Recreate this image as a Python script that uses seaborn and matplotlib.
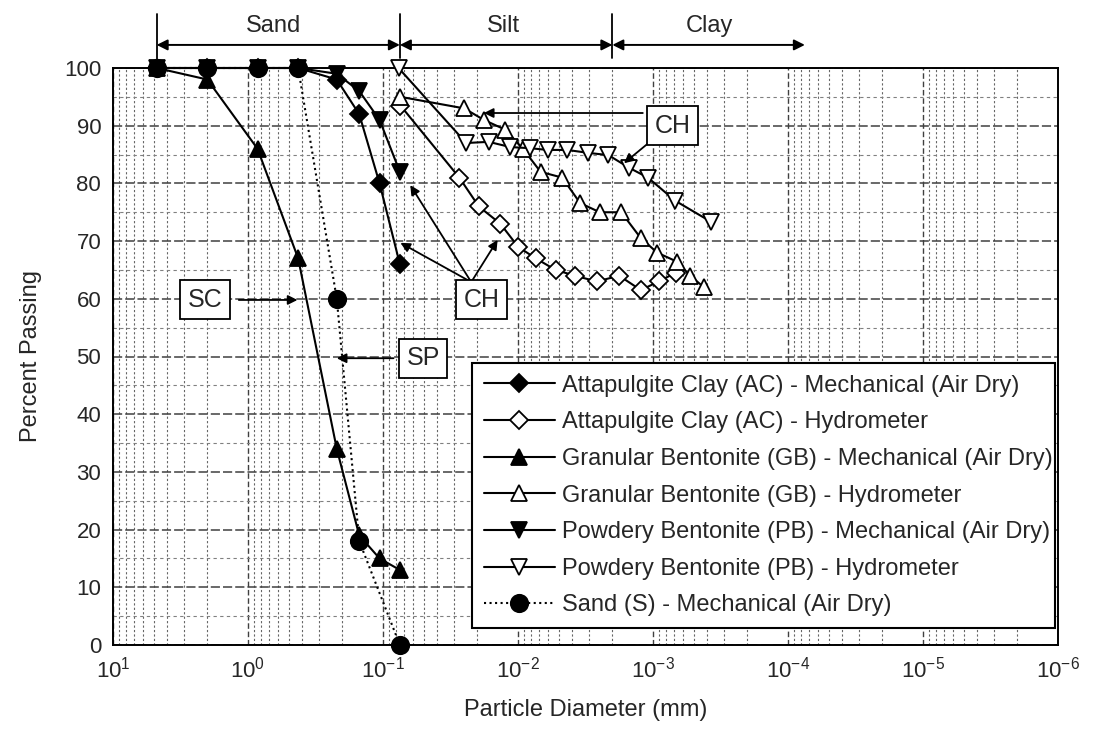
import matplotlib
matplotlib.use('Agg')
import matplotlib.pyplot as plt
import seaborn as sns
from matplotlib.ticker import FixedLocator, LogLocator, MultipleLocator, NullFormatter

# sieve sizes (mm) used for the mechanical (air dry) tests
sieve = [4.75, 2.0, 0.85, 0.425, 0.22, 0.15, 0.106, 0.075]
ac_mech = [100, 100, 100, 100, 98, 92, 80, 66]
gb_mech = [100, 98, 86, 67, 34, 19, 15, 13]
pb_mech = [100, 100, 100, 100, 99, 96, 91, 82]

sand_d = [4.75, 2.0, 0.85, 0.425, 0.22, 0.15, 0.075]
sand_p = [100, 100, 100, 100, 60, 18, 0]

# hydrometer readings
ac_hyd_d = [0.0743, 0.0272, 0.0195, 0.0135, 0.00997, 0.00738, 0.00527, 0.00378,
            0.00261, 0.00178, 0.00123, 0.00091, 0.00068]
ac_hyd_p = [93.5, 81, 76, 73, 69, 67, 65, 64, 63, 64, 61.5, 63, 64.5]

gb_hyd_d = [0.0743, 0.025, 0.0179, 0.0124, 0.0092, 0.0068, 0.0047, 0.00347,
            0.00248, 0.00172, 0.00123, 0.00093, 0.00066, 0.00053, 0.00042]
gb_hyd_p = [95, 93, 91, 89.3, 86, 82, 81, 76.6, 75, 75, 70.5, 68, 66.4, 64, 62]

pb_hyd_d = [0.0767, 0.0242, 0.0165, 0.0114, 0.00815, 0.00604, 0.00432, 0.00304,
            0.00214, 0.0015, 0.00109, 0.000685, 0.000369]
pb_hyd_p = [100, 87, 87.2, 86.3, 86.1, 85.8, 85.8, 85.3, 84.9, 82.7, 81, 77, 73.3]

labels = ['Attapulgite Clay (AC) - Mechanical (Air Dry)',
          'Attapulgite Clay (AC) - Hydrometer',
          'Granular Bentonite (GB) - Mechanical (Air Dry)',
          'Granular Bentonite (GB) - Hydrometer',
          'Powdery Bentonite (PB) - Mechanical (Air Dry)',
          'Powdery Bentonite (PB) - Hydrometer',
          'Sand (S) - Mechanical (Air Dry)']

decades = [1, 0, -1, -2, -3, -4, -5, -6]

sns.set_style('white')
plt.rcParams['font.family'] = ['Liberation Sans', 'DejaVu Sans']
plt.rcParams['mathtext.fontset'] = 'custom'
plt.rcParams['mathtext.rm'] = 'Liberation Sans'
plt.rcParams['mathtext.it'] = 'Liberation Sans:italic'
plt.rcParams['mathtext.default'] = 'regular'

fig = plt.figure(figsize=(10.99, 7.29), dpi=100)
ax = fig.add_axes([113 / 1099, 84 / 729, 945 / 1099, 577 / 729])
ax.set_xscale('log')

series = [
    (sieve, ac_mech, 'D', True, '-', 9.5),
    (ac_hyd_d, ac_hyd_p, 'D', False, '-', 9.5),
    (sieve, gb_mech, '^', True, '-', 11),
    (gb_hyd_d, gb_hyd_p, '^', False, '-', 11),
    (sieve, pb_mech, 'v', True, '-', 11),
    (pb_hyd_d, pb_hyd_p, 'v', False, '-', 11),
    (sand_d, sand_p, 'o', True, ':', 12.5),
]
for (d, p, mk, filled, ls, ms), lab in zip(series, labels):
    sns.lineplot(x=d, y=p, ax=ax, label=lab, color='black', linestyle=ls, lw=1.5,
                 marker=mk, markersize=ms, markerfacecolor='black' if filled else 'white',
                 markeredgecolor='black', markeredgewidth=1.3,
                 estimator=None, sort=False, clip_on=False, zorder=5)

ax.set_xlim(10, 1e-6)
ax.set_ylim(0, 100)
ax.xaxis.set_major_locator(FixedLocator([10.0 ** k for k in decades]))
ax.set_xticklabels([r'$10^{%d}$' % k for k in decades])
ax.xaxis.set_minor_locator(LogLocator(base=10, subs=range(2, 10), numticks=12))
ax.xaxis.set_minor_formatter(NullFormatter())
ax.yaxis.set_major_locator(MultipleLocator(10))
ax.yaxis.set_minor_locator(MultipleLocator(5))

ax.grid(which='major', axis='x', color='0.25', linestyle=(0, (4, 2)), lw=1.0)
ax.grid(which='minor', axis='x', color='0.4', linestyle=(0, (2, 2)), lw=0.8)
ax.grid(which='major', axis='y', color='0.25', linestyle=(0, (6, 2)), lw=1.1)
ax.grid(which='minor', axis='y', color='0.5', linestyle=(0, (3, 3)), lw=0.8)
ax.set_axisbelow(True)

ax.tick_params(which='major', direction='inout', length=10, width=1.2, labelsize=16, color='black')
ax.tick_params(which='minor', direction='inout', length=6, width=1.0, color='black')
for s in ax.spines.values():
    s.set_color('black')
    s.set_linewidth(1.4)

ax.set_xlabel('Particle Diameter (mm)', fontsize=17, labelpad=12)
ax.set_ylabel('Percent Passing', fontsize=17, labelpad=16)

# soil fraction header
trans = ax.get_xaxis_transform()
for xb in [4.75, 0.075, 0.002]:
    ax.plot([xb, xb], [1.017, 1.094], transform=trans, color='black', lw=1.3, clip_on=False)
head = dict(color='black', lw=1.4, mutation_scale=16, shrinkA=0, shrinkB=0)
ax.annotate('', xy=(0.075, 1.04), xytext=(4.75, 1.04), xycoords=trans, textcoords=trans,
            arrowprops=dict(arrowstyle='<|-|>', **head), annotation_clip=False)
ax.annotate('', xy=(0.002, 1.04), xytext=(0.075, 1.04), xycoords=trans, textcoords=trans,
            arrowprops=dict(arrowstyle='<|-|>', **head), annotation_clip=False)
ax.annotate('', xy=(7.5e-5, 1.04), xytext=(0.002, 1.04), xycoords=trans, textcoords=trans,
            arrowprops=dict(arrowstyle='<|-|>', **head), annotation_clip=False)
for xt, txt in [(0.65, 'Sand'), (0.0128, 'Silt'), (0.00038, 'Clay')]:
    ax.text(xt, 1.072, txt, transform=trans, ha='center', va='center', fontsize=17)

# classification boxes
box = dict(boxstyle='square,pad=0.3', fc='white', ec='black', lw=1.3)
arr = dict(arrowstyle='-|>', color='black', lw=1.3, mutation_scale=14, shrinkA=0, shrinkB=0)
ax.annotate('', xy=(0.43, 59.8), xytext=(1.17, 59.8), arrowprops=arr, zorder=6)
ax.text(2.07, 59.8, 'SC', ha='center', va='center', fontsize=18, bbox=box, zorder=7)
ax.annotate('', xy=(0.22, 49.7), xytext=(0.0836, 49.7), arrowprops=arr, zorder=6)
ax.text(0.0505, 49.7, 'SP', ha='center', va='center', fontsize=18, bbox=box, zorder=7)
for tip in [(0.0628, 79.7), (0.0743, 69.7), (0.01416, 70.2)]:
    ax.annotate('', xy=tip, xytext=(0.0222, 62.9), arrowprops=arr, zorder=6)
ax.text(0.0185, 59.8, 'CH', ha='center', va='center', fontsize=18, bbox=box, zorder=7)
ax.annotate('', xy=(0.0179, 92.2), xytext=(0.00119, 92.2), arrowprops=arr, zorder=6)
ax.annotate('', xy=(0.00164, 83.5), xytext=(0.000881, 88.7), arrowprops=arr, zorder=6)
ax.text(0.00072, 90.0, 'CH', ha='center', va='center', fontsize=18, bbox=box, zorder=7)

leg = ax.legend(loc='upper left', bbox_to_anchor=(0.380, 0.036, 0.617, 0.453), mode='expand',
                borderaxespad=0, frameon=True, fancybox=False, edgecolor='black', framealpha=1,
                fontsize=17, handlelength=3.0, labelspacing=0.62, borderpad=0.5, handletextpad=0.3)
leg.get_frame().set_linewidth(1.5)
leg.set_zorder(8)

fig.savefig('out.png', dpi=100)
